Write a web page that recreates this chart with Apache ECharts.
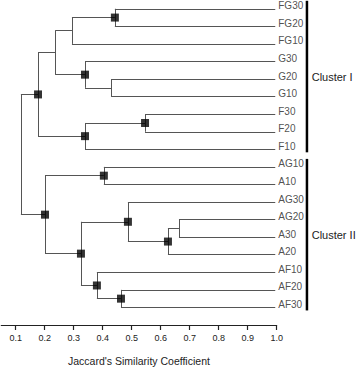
<!DOCTYPE html>
<html>
<head>
<meta charset="utf-8">
<script src="https://cdn.jsdelivr.net/npm/echarts@6/dist/echarts.min.js"></script>
<style>
html,body{margin:0;padding:0;background:#fff;}
#c{width:358px;height:371px;}
</style>
</head>
<body>
<div id="c"></div>
<script>
// ---- data ----
const leaves = ['FG30','FG20','FG10','G30','G20','G10','F30','F20','F10',
                'AG10','A10','AG30','AG20','A30','A20','AF10','AF20','AF30'];
// merges: [childA, childB, similarity]; ids 0..17 leaves, 18+ merged nodes in order
const merges = [
  [0, 1, 0.442],   // 18
  [18, 2, 0.294],  // 19
  [4, 5, 0.429],   // 20
  [3, 20, 0.339],  // 21
  [19, 21, 0.236], // 22
  [6, 7, 0.546],   // 23
  [23, 8, 0.339],  // 24
  [22, 24, 0.177], // 25
  [9, 10, 0.404],  // 26
  [12, 13, 0.663], // 27
  [27, 14, 0.625], // 28
  [11, 28, 0.487], // 29
  [16, 17, 0.463], // 30
  [15, 30, 0.380], // 31
  [29, 31, 0.325], // 32
  [26, 32, 0.201], // 33
  [25, 33, 0.118]  // 34
];
const markerFlags = [1,0,0,1,0,1,1,1,1,0,1,1,1,1,1,1,0];
const leafEnd = 0.995;
const tickValues = [0.1,0.2,0.3,0.4,0.5,0.6,0.7,0.8,0.9,1.0];
const clusters = [[0, 8, 'Cluster I'], [9, 17, 'Cluster II']];

// ---- build tree geometry ----
const nx = [], ny = [];
leaves.forEach((n, i) => { nx.push(leafEnd); ny.push(i); });
const segs = [], marks = [];
merges.forEach((m, k) => {
  const [a, b, h] = m;
  const y = (ny[a] + ny[b]) / 2;
  nx.push(h); ny.push(y);
  segs.push({coords: [[h, ny[a]], [h, ny[b]]]});
  segs.push({coords: [[h, ny[a]], [nx[a], ny[a]]]});
  segs.push({coords: [[h, ny[b]], [nx[b], ny[b]]]});
  if (markerFlags[k]) marks.push([h, y]);
});

const font = '"Liberation Sans", Arial, Helvetica, sans-serif';
const chart = echarts.init(document.getElementById('c'), null, {renderer: 'svg'});
chart.setOption({
  backgroundColor: '#fff',
  animation: false,
  grid: {left: 1.2, top: 0, width: 275.5, height: 333},
  xAxis: {
    type: 'value', min: 0.05, max: 1.0, position: 'bottom',
    splitLine: {show: false},
    axisLine: {show: true, onZero: false, lineStyle: {color: '#222', width: 1}},
    axisTick: {show: true, customValues: tickValues, length: 5, lineStyle: {color: '#222', width: 1.2}},
    axisLabel: {customValues: tickValues, fontSize: 9, color: '#222', fontFamily: font, margin: 8,
                formatter: v => v.toFixed(1)},
    name: "Jaccard's Similarity Coefficient",
    nameLocation: 'middle', nameGap: 30,
    nameTextStyle: {fontSize: 10.5, color: '#222', fontFamily: font}
  },
  yAxis: {
    type: 'value', inverse: true, min: -0.5, max: 18, show: false
  },
  series: [
    {
      type: 'lines', coordinateSystem: 'cartesian2d', polyline: false,
      data: segs, silent: true,
      lineStyle: {color: '#555', width: 1, opacity: 1}
    },
    {
      type: 'scatter', symbol: 'rect', symbolSize: 8, data: marks,
      itemStyle: {color: '#000'}, silent: true, z: 5
    },
    {
      type: 'scatter', symbolSize: 0,
      data: leaves.map((n, i) => ({name: n, value: [leafEnd, i]})),
      label: {show: true, position: 'right', distance: 3, offset: [0, -3],
              formatter: p => p.name, fontSize: 10, color: '#222', fontFamily: font},
      silent: true
    },
    {
      type: 'custom', silent: true, clip: false,
      data: clusters,
      renderItem: (params, api) => {
        const c = clusters[params.dataIndex];
        const p0 = api.coord([1.0, c[0]]);
        const p1 = api.coord([1.0, c[1]]);
        const bx = p0[0] + 29;
        const y0 = p0[1] - 8, y1 = p1[1] + 3;
        return {
          type: 'group',
          children: [
            {type: 'rect', shape: {x: bx, y: y0, width: 2.5, height: y1 - y0},
             style: {fill: '#000'}},
            {type: 'text', style: {text: c[2], x: bx + 6, y: (y0 + y1) / 2,
              verticalAlign: 'middle', align: 'left',
              font: '11px ' + font, fill: '#222'}}
          ]
        };
      }
    }
  ]
});
</script>
</body>
</html>
